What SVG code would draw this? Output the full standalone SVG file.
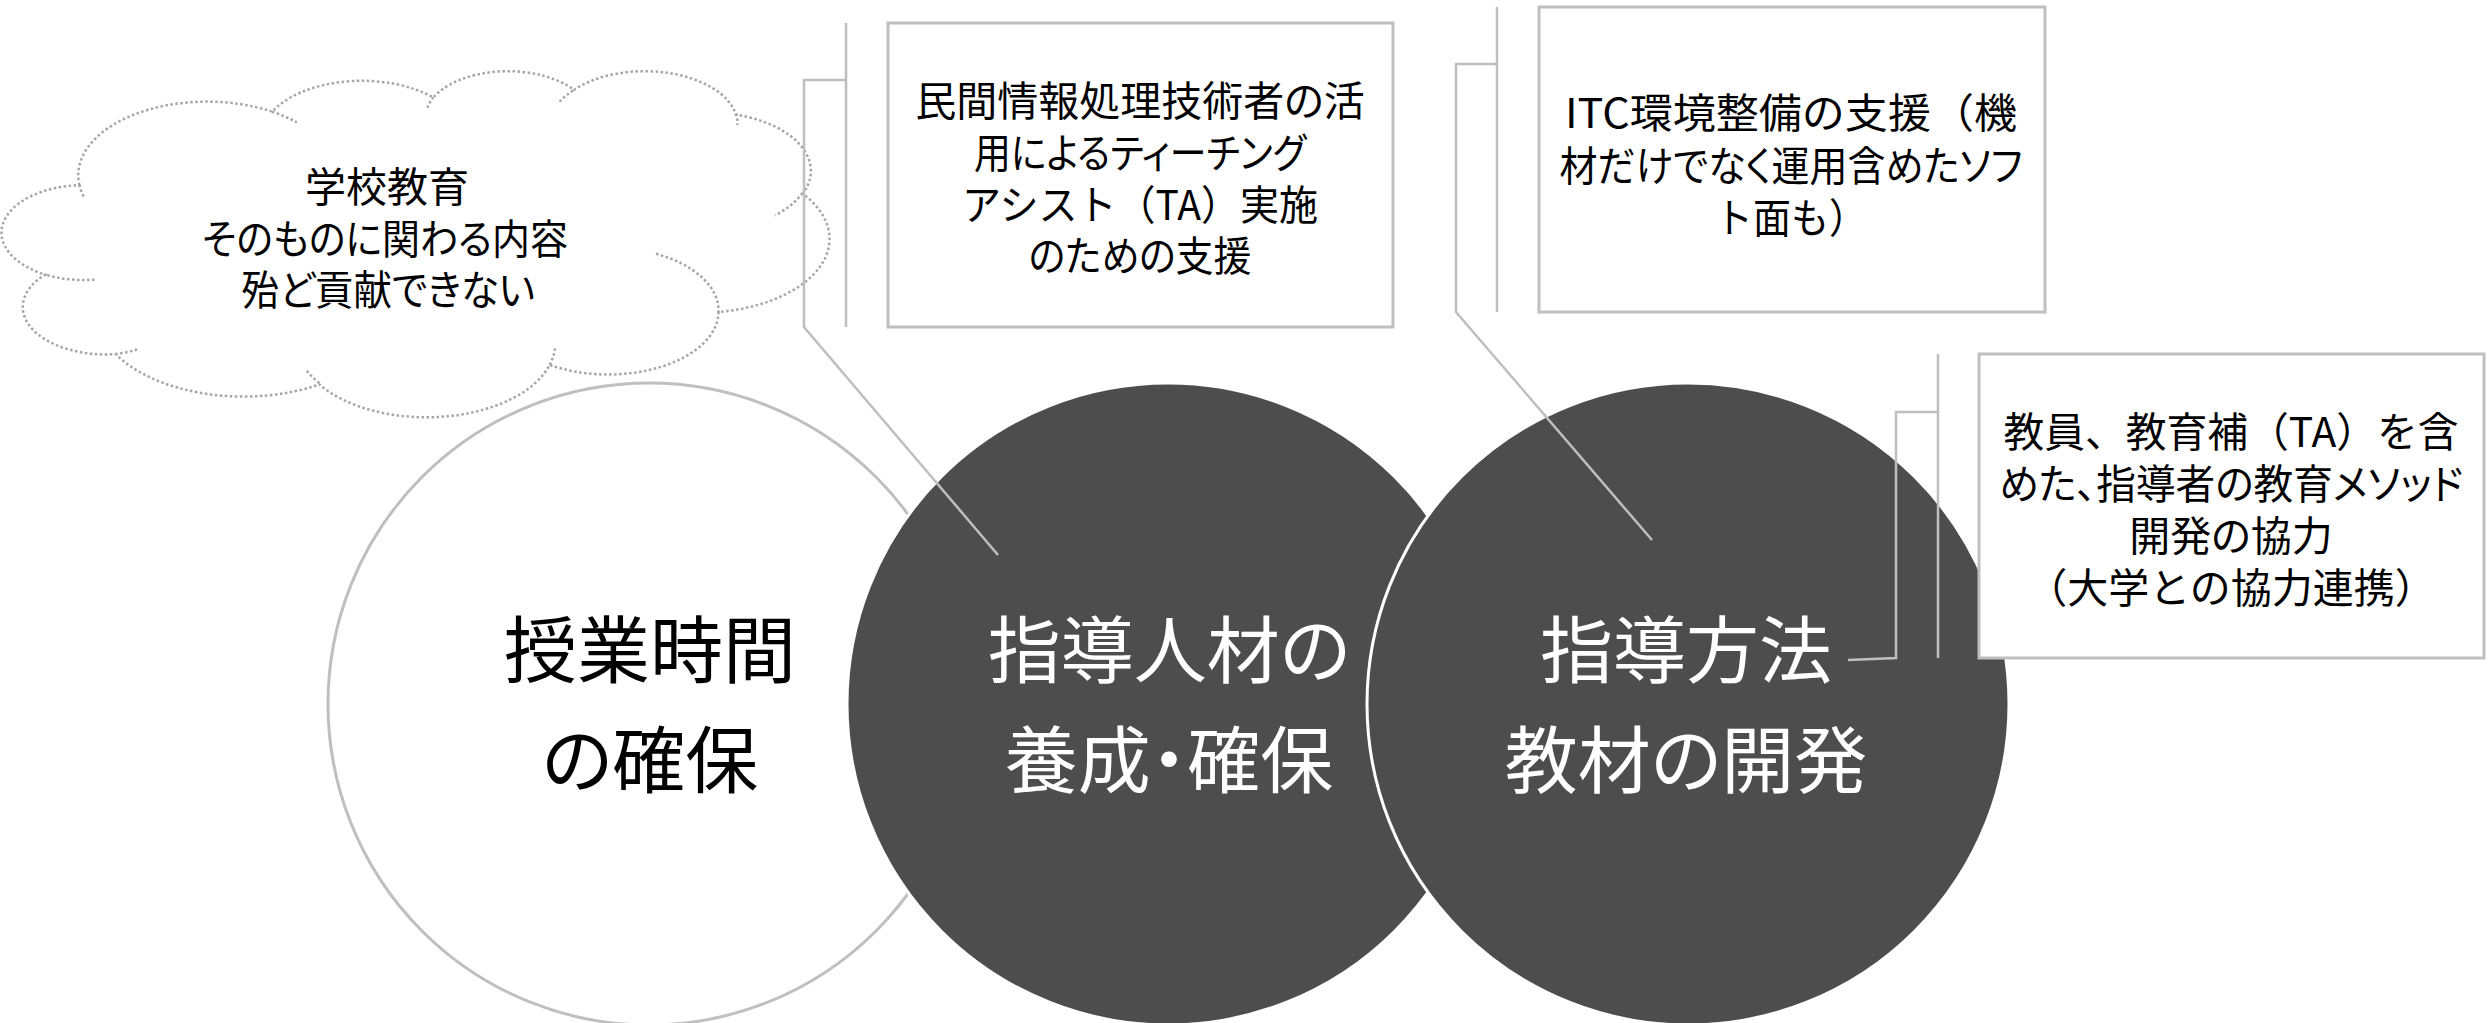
<svg xmlns="http://www.w3.org/2000/svg" width="2491" height="1023" viewBox="0 0 2491 1023">
<style>
.t{font-family:"Noto Sans CJK JP","Noto Sans CJK SC",sans-serif;font-feature-settings:"palt" 1;text-anchor:middle}
.sm{font-size:41px;fill:#000}
.big{font-size:73px}
.fw{font-feature-settings:normal}
.box{fill:#fff;stroke:#bfbfbf;stroke-width:3}
.lead{fill:none;stroke:#bfbfbf;stroke-width:2.5}
.cloud{fill:#fff;stroke:#a6a6a6;stroke-width:2.5;stroke-dasharray:2.5 2.5}
.inner{fill:none;stroke:#a6a6a6;stroke-width:2.5;stroke-dasharray:2.5 2.5}
</style>
<rect width="2491" height="1023" fill="#fff"/>
<g id="cloud">
<path class="cloud" d="M79.4,185.1 A128.8,73.6 0 0 1 272.1,111.7 A101.7,58.2 0 0 1 433.3,97.5 A83.3,47.6 0 0 1 574.0,89.9 A92.6,52.8 0 0 1 735.9,114.7 A101.7,58.3 0 0 1 802.7,193.8 A129.2,73.8 0 0 1 718.5,311.9 A110.3,63.0 0 0 1 549.7,364.9 A128.8,73.8 0 0 1 319.4,384.5 A147.3,84.4 0 0 1 115.7,354.1 A83.2,47.4 0 0 1 45.3,274.6 A82.9,47.6 0 0 1 79.4,185.1 Z"/>
<path class="inner" d="M94.5,279.7 A82.9,47.6 0 0 1 45.3,274.6 M137.1,349.5 A83.2,47.4 0 0 1 115.7,354.1 M319.3,383.1 A128.8,73.8 0 0 1 306.6,370.6 M554.9,348.3 A128.8,73.8 0 0 1 549.7,364.9 M656.0,253.8 A110.3,63.0 0 0 1 718.5,311.9 M802.3,193.0 A101.7,58.3 0 0 1 775.0,215.3 M736.0,113.5 A92.6,52.8 0 0 1 737.4,124.8 M559.6,101.7 A92.6,52.8 0 0 1 574.0,89.9 M427.3,107.8 A83.3,47.6 0 0 1 433.3,97.5 M272.0,111.6 A128.8,73.6 0 0 1 296.9,122.5 M83.7,196.5 A128.8,73.6 0 0 1 79.4,185.1"/>
<circle class="cloud" cx="510.7" cy="451.2" r="28.8"/>
<circle class="cloud" cx="535.8" cy="507.5" r="19.2"/>
<circle class="cloud" cx="553" cy="546" r="9.6"/>
<text class="t sm"><tspan x="387" y="202">学校教育</tspan><tspan x="385" y="254" textLength="366" lengthAdjust="spacingAndGlyphs">そのものに関わる内容</tspan><tspan x="388" y="305" textLength="294" lengthAdjust="spacingAndGlyphs">殆ど貢献できない</tspan></text>
</g>
<g id="circle1">
<circle cx="649" cy="704" r="321" fill="#fff" stroke="#bfbfbf" stroke-width="3"/>
<text class="t big" fill="#000"><tspan x="650" y="677">授業時間</tspan><tspan x="650" y="787">の確保</tspan></text>
</g>
<g id="circle2">
<circle cx="1168" cy="704" r="321" fill="#4d4d4d" stroke="#fff" stroke-width="3"/>
<text class="t big" fill="#fff"><tspan x="1169" y="677">指導人材の</tspan><tspan x="1169" y="787">養成・確保</tspan></text>
</g>
<g id="circle3">
<circle cx="1688" cy="704" r="321" fill="#4d4d4d" stroke="#fff" stroke-width="3"/>
<text class="t big" fill="#fff"><tspan x="1686" y="677">指導方法</tspan><tspan x="1686" y="787">教材の開発</tspan></text>
</g>
<g id="box1">
<rect class="box" x="888" y="23" width="505" height="304"/>
<text class="t sm"><tspan x="1140" y="116">民間情報処理技術者の活</tspan><tspan x="1140" y="168" textLength="332" lengthAdjust="spacingAndGlyphs">用によるティーチング</tspan><tspan class="fw" x="1140" y="220" textLength="356" lengthAdjust="spacingAndGlyphs">アシスト（TA）実施</tspan><tspan x="1140" y="271" textLength="223" lengthAdjust="spacingAndGlyphs">のための支援</tspan></text>
</g>
<g id="box2">
<rect class="box" x="1539" y="7" width="506" height="305"/>
<text class="t sm"><tspan class="fw" x="1791" y="128" textLength="452" lengthAdjust="spacingAndGlyphs">ITC環境整備の支援（機</tspan><tspan x="1791" y="181" textLength="463" lengthAdjust="spacingAndGlyphs">材だけでなく運用含めたソフ</tspan><tspan class="fw" x="1791" y="233" textLength="152" lengthAdjust="spacingAndGlyphs">ト面も）</tspan></text>
</g>
<g id="box3">
<rect class="box" x="1979" y="354" width="505" height="304"/>
<text class="t sm"><tspan class="fw" x="2231" y="447" textLength="455" lengthAdjust="spacingAndGlyphs">教員、教育補（TA）を含</tspan><tspan x="2231" y="499" textLength="464" lengthAdjust="spacingAndGlyphs">めた、指導者の教育メソッド</tspan><tspan x="2231" y="551">開発の協力</tspan><tspan class="fw" x="2231" y="603">（大学との協力連携）</tspan></text>
</g>
<g id="connectors">
<path class="lead" d="M846,23 V327"/>
<path class="lead" d="M846,80 H804 V327 L998,555"/>
<path class="lead" d="M1497,7 V312"/>
<path class="lead" d="M1497,64 H1456 V312 L1652,540"/>
<path class="lead" d="M1938,354 V658"/>
<path class="lead" d="M1938,412 H1896 V658 L1848,660"/>
</g>
</svg>
